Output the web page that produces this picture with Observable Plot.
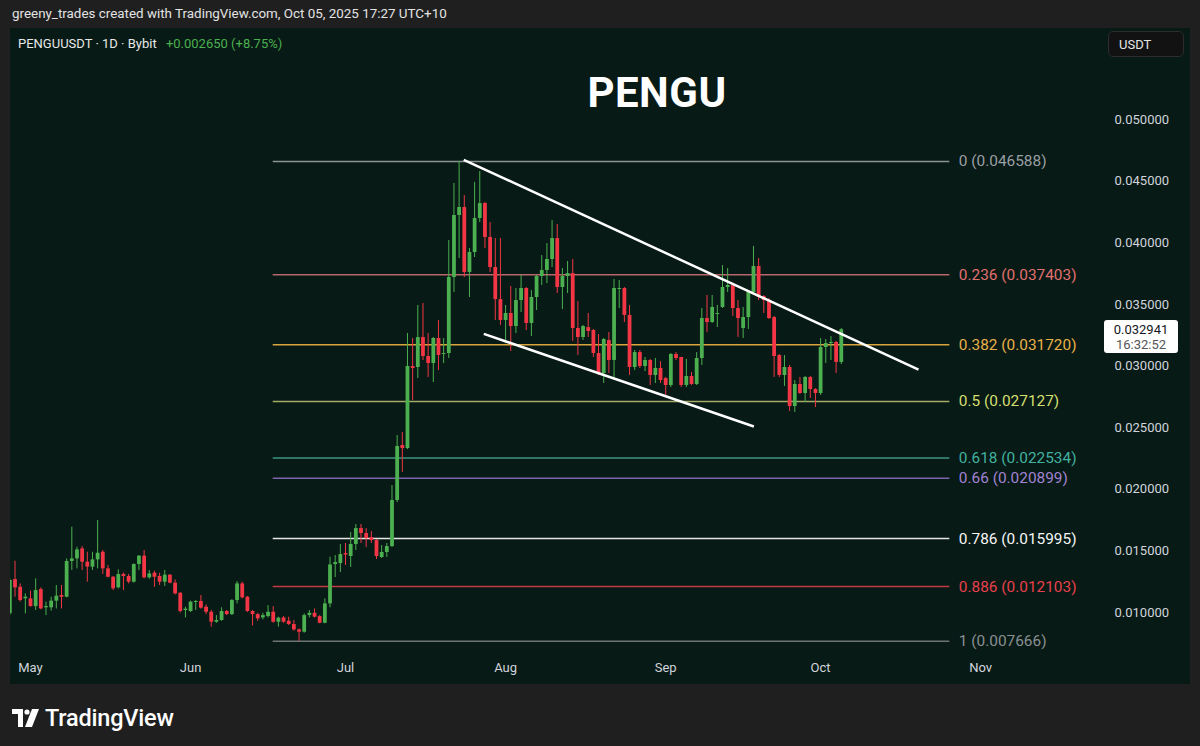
<!DOCTYPE html>
<html><head><meta charset="utf-8">
<script src="https://cdn.jsdelivr.net/npm/d3@7"></script>
<script src="https://cdn.jsdelivr.net/npm/@observablehq/plot@0.6"></script>
<style>
html,body{margin:0;padding:0;background:#1f1f1f;width:1200px;height:746px;overflow:hidden;font-family:Roboto,"Noto Sans",sans-serif;}
#hdr{position:absolute;left:12px;top:6px;color:#e3e3e3;font-size:13.4px;white-space:nowrap;}
#panel{position:absolute;left:10px;top:28px;width:1180px;height:656px;background:#071a15;overflow:hidden;}
#sym{position:absolute;left:8px;top:8px;color:#e8e8e8;font-size:13px;white-space:nowrap;}
#sym .chg{color:#4caf50;margin-left:6px;}
#title{position:absolute;left:547px;width:200px;top:40px;text-align:center;color:#fff;font-weight:700;font-size:42px;letter-spacing:0.5px;}
#usdt{position:absolute;left:1098px;top:3px;width:76px;height:26px;border-radius:5px;background:#121212;border:1px solid #2c2c2c;color:#e6e6e6;font-size:13px;line-height:26px;padding-left:10px;box-sizing:border-box;}
#plab{position:absolute;left:1094px;width:74px;height:33px;background:#fff;border-radius:3px;color:#131722;font-size:13px;text-align:center;line-height:15px;padding-top:2px;box-sizing:border-box;}
#plab .t{color:#555;}
#logo{position:absolute;left:12px;top:704px;color:#fff;font-size:23.5px;font-weight:700;display:flex;align-items:center;gap:6px;}
svg{position:absolute;left:0;top:0;}
</style></head>
<body>
<div id="hdr">greeny_trades created with TradingView.com, Oct 05, 2025 17:27 UTC+10</div>
<div id="panel">
  <div id="sym">PENGUUSDT · 1D · Bybit <span class="chg">+0.002650 (+8.75%)</span></div>
  <div id="title">PENGU</div>
  <div id="usdt">USDT</div>
</div>
<div id="logo"><svg width="27" height="18" viewBox="0 0 27 18" style="position:static"><path d="M0 0H11V18H6V5H0Z" fill="#fff"/><circle cx="15" cy="3" r="2.6" fill="#fff"/><path d="M20 0H27L20 18H13Z" fill="#fff"/></svg><span style="font-family:Roboto,sans-serif;font-weight:500;letter-spacing:-0.2px">TradingView</span></div>
<script>
// ---- data ----
const firstDate = "2025-04-27";
const open = [0.00989,0.01267,0.01205,0.01111,0.01111,0.01048,0.01186,0.01038,0.01038,0.01092,0.01138,0.01124,0.01414,0.01435,0.01516,0.01408,0.01368,0.01427,0.01489,0.01354,0.01286,0.01200,0.01308,0.01292,0.01246,0.01389,0.01457,0.01281,0.01319,0.01292,0.01246,0.01303,0.01238,0.01157,0.01016,0.01008,0.01081,0.01089,0.01043,0.01002,0.00921,0.00935,0.01008,0.00983,0.01097,0.01232,0.01124,0.01008,0.00983,0.00956,0.00967,0.01002,0.00921,0.00956,0.00929,0.00902,0.00859,0.00840,0.00975,0.00994,0.00967,0.00913,0.01070,0.01389,0.01397,0.01478,0.01454,0.01552,0.01681,0.01641,0.01608,0.01584,0.01446,0.01487,0.01535,0.01909,0.02355,0.02330,0.02996,0.02988,0.03231,0.03077,0.03020,0.03223,0.03093,0.03101,0.03718,0.04221,0.04286,0.03759,0.03921,0.04197,0.04318,0.04043,0.03799,0.03539,0.03369,0.03426,0.03320,0.03531,0.03629,0.03345,0.03556,0.03726,0.03775,0.03864,0.04034,0.03637,0.03726,0.03750,0.03304,0.03231,0.03312,0.03288,0.03101,0.02939,0.03207,0.03045,0.03621,0.03629,0.03410,0.02988,0.03109,0.02996,0.03045,0.02923,0.02980,0.02898,0.02842,0.03093,0.03069,0.02842,0.02915,0.02850,0.03061,0.03385,0.03353,0.03418,0.03475,0.03637,0.03653,0.03466,0.03304,0.03393,0.03596,0.03807,0.03564,0.03531,0.03393,0.03085,0.02923,0.02988,0.02671,0.02850,0.02777,0.02907,0.02809,0.02777,0.03150,0.03182,0.03191,0.030291];
const high = [0.01273,0.01416,0.01232,0.01151,0.01173,0.01273,0.01200,0.01084,0.01124,0.01219,0.01219,0.01435,0.01692,0.01530,0.01535,0.01489,0.01489,0.01746,0.01503,0.01381,0.01292,0.01346,0.01319,0.01308,0.01395,0.01462,0.01503,0.01341,0.01335,0.01319,0.01341,0.01308,0.01265,0.01159,0.01043,0.01092,0.01097,0.01138,0.01062,0.01016,0.00975,0.01038,0.01016,0.01105,0.01251,0.01246,0.01130,0.01016,0.00994,0.00994,0.01056,0.01048,0.00962,0.00967,0.00962,0.00935,0.00867,0.00989,0.01016,0.01029,0.00975,0.01111,0.01449,0.01462,0.01552,0.01560,0.01649,0.01714,0.01714,0.01681,0.01657,0.01592,0.01543,0.01560,0.02030,0.02436,0.02460,0.03264,0.03223,0.03491,0.03507,0.03264,0.03231,0.03369,0.03223,0.04018,0.04481,0.046588,0.04383,0.03953,0.04489,0.04578,0.04327,0.04164,0.04034,0.04034,0.03491,0.03645,0.03629,0.03734,0.03637,0.03612,0.03734,0.03896,0.03994,0.04180,0.04148,0.03791,0.03848,0.03864,0.03523,0.03329,0.03426,0.03296,0.03255,0.03223,0.03272,0.03702,0.03694,0.03637,0.03491,0.03126,0.03126,0.03069,0.03053,0.03061,0.03036,0.02907,0.03101,0.03109,0.03070,0.03053,0.02947,0.03109,0.03466,0.03572,0.03572,0.03491,0.03815,0.03791,0.03669,0.03531,0.03475,0.03612,0.03970,0.03872,0.03572,0.03548,0.03402,0.03093,0.03085,0.03004,0.02882,0.02907,0.02915,0.02915,0.02817,0.03223,0.03215,0.03239,0.03199,0.03304];
const low = [0.00975,0.01124,0.01084,0.00989,0.01043,0.01016,0.01022,0.00975,0.01011,0.01029,0.01029,0.01119,0.01341,0.01354,0.01341,0.01246,0.01341,0.01354,0.01308,0.01281,0.01178,0.01192,0.01178,0.01232,0.01238,0.01341,0.01273,0.01270,0.01205,0.01219,0.01211,0.01232,0.01143,0.00997,0.00956,0.01000,0.01016,0.01027,0.00983,0.00881,0.00913,0.00929,0.00975,0.00975,0.01070,0.01111,0.01000,0.00891,0.00929,0.00940,0.00956,0.00913,0.00881,0.00913,0.00894,0.00848,0.007666,0.00832,0.00956,0.00956,0.00908,0.00908,0.01038,0.01284,0.01324,0.01381,0.01365,0.01503,0.01560,0.01527,0.01560,0.01430,0.01438,0.01446,0.01527,0.01892,0.02136,0.02322,0.02720,0.02898,0.03045,0.02907,0.02866,0.02963,0.03020,0.03061,0.03596,0.03872,0.03718,0.03556,0.03880,0.04164,0.03953,0.03759,0.03369,0.03329,0.03182,0.03118,0.03264,0.03434,0.03288,0.03239,0.03450,0.03653,0.03669,0.03799,0.03588,0.03458,0.03588,0.03199,0.03085,0.03207,0.03231,0.03069,0.02923,0.02858,0.02939,0.02898,0.03466,0.03353,0.02923,0.02963,0.02980,0.02955,0.02842,0.02858,0.02858,0.02761,0.02825,0.03045,0.02825,0.02825,0.02842,0.02842,0.03004,0.03272,0.03345,0.03312,0.03466,0.03596,0.03402,0.03231,0.03223,0.03296,0.03588,0.03531,0.03426,0.03377,0.02907,0.02907,0.02834,0.02631,0.02623,0.02769,0.02704,0.02736,0.02663,0.02761,0.03020,0.03045,0.02939,0.03012];
const close = [0.01259,0.01200,0.01097,0.01124,0.01048,0.01178,0.01029,0.01048,0.01092,0.01132,0.01124,0.01414,0.01435,0.01508,0.01408,0.01368,0.01427,0.01481,0.01354,0.01286,0.01192,0.01308,0.01292,0.01246,0.01389,0.01457,0.01281,0.01313,0.01286,0.01246,0.01303,0.01238,0.01151,0.01008,0.01027,0.01084,0.01089,0.01035,0.01002,0.00921,0.00935,0.01008,0.00983,0.01097,0.01232,0.01119,0.01008,0.00983,0.00948,0.00975,0.01002,0.00921,0.00954,0.00921,0.00902,0.00859,0.00840,0.00975,0.00994,0.00962,0.00913,0.01070,0.01386,0.01405,0.01470,0.01466,0.01552,0.01681,0.01641,0.01600,0.01584,0.01454,0.01487,0.01535,0.01909,0.02347,0.02330,0.02996,0.02980,0.03231,0.03077,0.03020,0.03223,0.03085,0.03101,0.03718,0.04221,0.04286,0.03759,0.03921,0.04197,0.04318,0.04043,0.03799,0.03539,0.03369,0.03426,0.03320,0.03531,0.03629,0.03345,0.03556,0.03726,0.03775,0.03864,0.04034,0.03637,0.03726,0.03750,0.03304,0.03231,0.03320,0.03280,0.03101,0.02939,0.03215,0.03045,0.03629,0.03629,0.03410,0.02988,0.03109,0.02996,0.03045,0.02923,0.02980,0.02882,0.02842,0.03093,0.03061,0.02842,0.02915,0.02850,0.03061,0.03385,0.03353,0.03475,0.03426,0.03637,0.03653,0.03466,0.03385,0.03393,0.03596,0.03807,0.03556,0.03531,0.03385,0.03077,0.02923,0.02988,0.02671,0.02850,0.02777,0.02907,0.02809,0.02777,0.03150,0.03182,0.03191,0.030291,0.032941];

const fibLevels = ["0","0.236","0.382","0.5","0.618","0.66","0.786","0.886","1"];
const fibPrices = [0.046588,0.037403,0.031720,0.027127,0.022534,0.020899,0.015995,0.012103,0.007666];
const fibLineColors = ["#8a9393","#b8666b","#d9a53c","#a5aa68","#3d9484","#7d62ad","#e6e6e6","#c23a44","#6f7573"];
const fibTextColors = ["#9a9fa4","#e0706f","#e8b04a","#d4df70","#42b0a0","#a282d2","#f5f5f5","#e8404c","#8a8f93"];
const fibStart = "2025-06-17T00:00Z", fibEnd = "2025-10-26T00:30Z";

const upperTrend = {t1:"2025-07-23T21:30Z", p1:0.04673, t2:"2025-10-19T23:00Z", p2:0.02970};
const lowerTrend = {t1:"2025-07-27T18:40Z", p1:0.03261, t2:"2025-09-18T01:40Z", p2:0.02509};

const priceTicks = [0.010,0.015,0.020,0.025,0.030,0.035,0.040,0.045,0.050];
const monthTicks = ["2025-05-01","2025-06-01","2025-07-01","2025-08-01","2025-09-01","2025-10-01","2025-11-01"];
const monthNames = ["May","Jun","Jul","Aug","Sep","Oct","Nov"];
const lastTime = "16:32:52";

// ---- build ----
const t0 = Date.parse(firstDate + "T00:00Z");
const candles = open.map((o,i)=>({date:new Date(t0 + i*864e5), open:o, high:high[i], low:low[i], close:close[i]}));
const fib = fibLevels.map((l,i)=>({level:l, price:fibPrices[i], line:fibLineColors[i], text:fibTextColors[i]}));
const trends = [upperTrend, lowerTrend].map(t=>({x1:new Date(t.t1), y1:t.p1, x2:new Date(t.t2), y2:t.p2}));
const months = monthTicks.map((d,i)=>({date:new Date(d+"T00:00Z"), name:monthNames[i]}));
const up = "#4caf50", down = "#f23645";
const col = d => d.close >= d.open ? up : down;

const chart = Plot.plot({
  width: 1180, height: 656,
  marginTop: 0, marginLeft: 0, marginRight: 90, marginBottom: 0,
  x: {type:"utc", domain:[new Date("2025-05-01T00:00Z"), new Date("2025-11-01T00:00Z")], range:[20, 970.2], axis:null},
  y: {domain:[0.01,0.05], range:[584,91], axis:null},
  color: {type:"identity"},
  style: {background:"transparent", color:"#d1d4dc", fontFamily:"Roboto, 'Noto Sans', sans-serif", overflow:"visible"},
  marks: [
    Plot.ruleY(fib, {y:"price", x1:()=>new Date(fibStart), x2:()=>new Date(fibEnd), stroke:"line", strokeWidth:1.5}),
    Plot.text(fib, {y:"price", x:()=>new Date(fibEnd), text:d=>`${d.level} (${d.price.toFixed(6)})`, textAnchor:"start", dx:9, fill:"text", fontSize:15.4}),
    Plot.ruleX(candles, {x:"date", y1:"low", y2:"high", stroke:col, strokeWidth:1}),
    Plot.ruleX(candles, {x:"date", y1:d=>Math.max(d.open,d.close), y2:d=>Math.min(d.open,d.close), stroke:col, strokeWidth:3.8}),
    Plot.link(trends, {x1:"x1", y1:"y1", x2:"x2", y2:"y2", stroke:"#ffffff", strokeWidth:2.5}),
    Plot.text(priceTicks, {y:d=>d, frameAnchor:"right", textAnchor:"start", dx:14, text:d=>d.toFixed(6), fill:"#d1d4dc", fontSize:13}),
    Plot.text(months, {x:"date", frameAnchor:"bottom", dy:-13, text:"name", fill:"#d1d4dc", fontSize:13})
  ]
});
document.getElementById("panel").appendChild(chart);

const last = candles[candles.length-1];
const yPix = chart.scale("y").apply(last.close);
const lab = document.createElement("div");
lab.id = "plab";
lab.style.top = (yPix - 9) + "px";
lab.innerHTML = `${last.close.toFixed(6)}<br><span class="t">${lastTime}</span>`;
document.getElementById("panel").appendChild(lab);
</script>
</body></html>
